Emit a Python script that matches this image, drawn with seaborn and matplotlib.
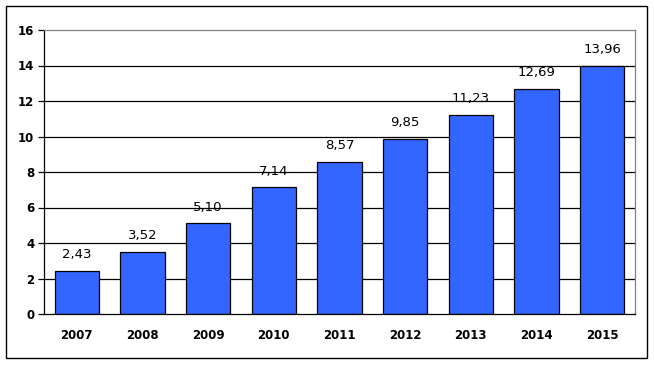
import numpy as np
import pandas as pd
import matplotlib
matplotlib.use('Agg')
import matplotlib.pyplot as plt
import seaborn as sns
from matplotlib.patches import Rectangle

# Data
years = ['2007', '2008', '2009', '2010', '2011', '2012', '2013', '2014', '2015']
values = [2.43, 3.52, 5.10, 7.14, 8.57, 9.85, 11.23, 12.69, 13.96]
y_ticks = [0, 2, 4, 6, 8, 10, 12, 14, 16]

df = pd.DataFrame({'year': years, 'value': values})

sns.set_style('white')
plt.rcParams['font.family'] = ['DejaVu Sans']
plt.rcParams['text.color'] = 'black'
plt.rcParams['xtick.color'] = 'black'
plt.rcParams['ytick.color'] = 'black'

fig = plt.figure(figsize=(6.54, 3.65), dpi=100)
ax = fig.add_axes([44 / 654, 1 - 314 / 365, (635 - 44) / 654, (314 - 30) / 365])

# black horizontal gridlines behind bars
ax.set_axisbelow(True)
for y in y_ticks[1:-1]:
    ax.axhline(y, color='black', lw=0.9, zorder=0)

sns.barplot(data=df, x='year', y='value', color='#3366FF', saturation=1,
            width=0.68, edgecolor='black', linewidth=0.9, ax=ax, zorder=2)

# value labels with comma decimal
for i, v in enumerate(values):
    ax.text(i, v + 0.55, f'{v:.2f}'.replace('.', ','), ha='center', va='bottom',
            fontsize=9.5, color='black')

ax.set_ylim(0, 16)
ax.set_xlim(-0.5, len(years) - 0.5)
ax.set_yticks(y_ticks)
ax.set_yticklabels([str(t) for t in y_ticks], fontsize=8.5, fontweight='bold', color='black')
ax.set_xticks(range(len(years)))
ax.set_xticklabels(years, fontsize=8.5, fontweight='bold', color='black')
ax.set_xticks(np.arange(-0.5, len(years)), minor=True)
ax.tick_params(axis='x', which='major', length=0, pad=11)
ax.tick_params(axis='x', which='minor', length=4, width=0.9, direction='out', color='black')
ax.tick_params(axis='y', length=4, width=0.9, direction='out', color='black', pad=3, left=True)
ax.set_xlabel('')
ax.set_ylabel('')

for side in ['left', 'bottom']:
    ax.spines[side].set_color('black')
    ax.spines[side].set_linewidth(0.9)
for side in ['top', 'right']:
    ax.spines[side].set_color('#808080')
    ax.spines[side].set_linewidth(0.9)

# outer border around the chart
fig.patches.append(Rectangle((6 / 654, 1 - 358 / 365), (647 - 6) / 654, (358 - 6) / 365,
                             transform=fig.transFigure, fill=False,
                             edgecolor='black', linewidth=1.0))

fig.savefig('out.png', dpi=100)
